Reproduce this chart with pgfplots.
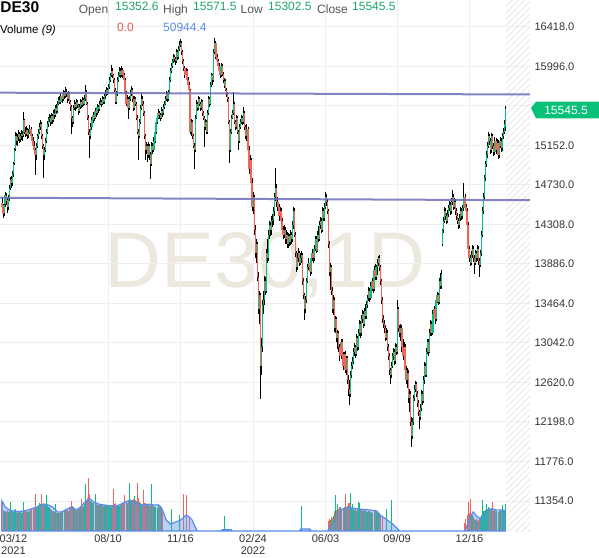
\documentclass[border=0pt]{standalone}
\usepackage{pgfplots}
\pgfplotsset{compat=1.18}
\usepackage{pgfplotstable}
\usepackage{fontspec}
\setmainfont{Liberation Sans}
\usetikzlibrary{patterns.meta}
\definecolor{cgreen}{HTML}{08C078}
\definecolor{cred}{HTML}{F0645A}
\definecolor{tgreen}{HTML}{1EA569}
\definecolor{tred}{HTML}{E65A50}
\definecolor{tblue}{HTML}{5A8CE6}
\definecolor{levelblue}{HTML}{6E6EB9}
\definecolor{gridgray}{HTML}{EEEEEE}
\definecolor{wm}{HTML}{ECE8DE}
\definecolor{mafill}{HTML}{6496E6}
\definecolor{maline}{HTML}{5A8CEB}
\definecolor{hatchgray}{HTML}{E2E2E2}
\definecolor{labgray}{HTML}{555555}
\definecolor{tickgray}{HTML}{333333}
\pgfplotstableread{
k o h l c u v
0 14540 14600 14420 14500 0 72000
1 14490 14530 14380 14420 0 52000
2 14430 14560 14400 14520 1 48000
3 14530 14660 14500 14620 1 50000
4 14610 14640 14520 14560 0 46000
5 14570 14600 14430 14500 0 52000
6 14500 14620 14460 14580 1 47000
7 14590 14730 14560 14700 1 50000
8 14700 14820 14680 14780 1 71000
9 14790 14830 14700 14750 0 48000
10 14750 14880 14720 14850 1 50000
11 14850 14980 14820 14950 1 46000
12 14960 15130 14940 15100 1 52000
13 15110 15300 15090 15250 1 55000
14 15250 15290 15160 15200 0 48000
15 15200 15270 15150 15240 1 45000
16 15240 15320 15200 15280 1 47000
17 15280 15300 15180 15220 0 50000
18 15220 15290 15190 15250 1 46000
19 15250 15320 15210 15280 1 44000
20 15280 15310 15200 15250 0 47000
21 15260 15510 15240 15420 1 72000
22 15420 15440 15270 15300 0 52000
23 15300 15350 15240 15280 0 48000
24 15280 15360 15250 15320 1 46000
25 15320 15340 15220 15260 0 49000
26 15260 15330 15230 15300 1 47000
27 15300 15370 15270 15330 1 50000
28 15330 15350 15210 15250 0 51000
29 15250 15280 15160 15200 0 53000
30 15200 15240 15100 15150 0 55000
31 15150 15200 15050 15100 0 57000
32 15100 15130 14840 15050 0 90000
33 15050 15180 15000 15150 1 60000
34 15150 15280 15120 15250 1 62000
35 15250 15330 15220 15300 1 65000
36 15300 15390 15270 15350 1 68000
37 15350 15420 15320 15380 1 66000
38 15380 15400 15220 15250 0 92000
39 15250 15280 15110 15150 0 65000
40 15150 15170 14800 15050 0 70000
41 15050 15140 15000 15100 1 66000
42 15100 15230 15080 15200 1 64000
43 15200 15330 15180 15300 1 88000
44 15300 15410 15270 15380 1 63000
45 15380 15460 15350 15430 1 60000
46 15430 15490 15400 15450 1 58000
47 15450 15480 15360 15400 0 55000
48 15400 15500 15380 15470 1 52000
49 15470 15490 15380 15420 0 50000
50 15420 15530 15400 15500 1 48000
51 15500 15540 15440 15480 0 46000
52 15480 15580 15460 15550 1 66000
53 15550 15590 15490 15520 0 45000
54 15520 15630 15500 15600 1 46000
55 15600 15670 15580 15640 1 44000
56 15640 15680 15590 15620 0 45000
57 15620 15710 15600 15680 1 47000
58 15680 15700 15610 15650 0 48000
59 15650 15740 15630 15700 1 50000
60 15700 15730 15650 15680 0 52000
61 15680 15780 15660 15720 1 55000
62 15720 15760 15670 15700 0 54000
63 15700 15720 15610 15650 0 52000
64 15650 15730 15630 15700 1 50000
65 15700 15720 15590 15620 0 56000
66 15620 15640 15520 15560 0 58000
67 15560 15580 15280 15450 0 75000
68 15450 15470 15350 15400 0 62000
69 15400 15580 15380 15550 1 58000
70 15550 15640 15530 15600 1 54000
71 15600 15620 15520 15560 0 52000
72 15560 15650 15540 15620 1 50000
73 15620 15640 15550 15580 0 51000
74 15580 15600 15480 15520 0 53000
75 15520 15600 15500 15560 1 55000
76 15560 15650 15540 15620 1 58000
77 15620 15640 15550 15580 0 79000
78 15580 15670 15560 15640 1 60000
79 15640 15660 15570 15600 0 62000
80 15600 15690 15580 15650 1 66000
81 15650 15800 15630 15720 1 115000
82 15720 15740 15580 15600 0 75000
83 15600 15620 15420 15450 0 80000
84 15450 15480 15260 15300 0 130000
85 15300 15330 15020 15250 0 90000
86 15250 15390 15220 15350 1 75000
87 15350 15460 15320 15420 1 72000
88 15420 15510 15390 15480 1 70000
89 15480 15500 15410 15450 0 68000
90 15450 15550 15430 15520 1 92000
91 15520 15540 15460 15500 0 66000
92 15500 15590 15480 15560 1 65000
93 15560 15580 15500 15540 0 64000
94 15540 15630 15520 15600 1 66000
95 15600 15660 15580 15620 1 67000
96 15620 15640 15560 15600 0 65000
97 15600 15680 15580 15650 1 63000
98 15650 15670 15590 15620 0 62000
99 15620 15710 15600 15680 1 64000
100 15680 15740 15650 15700 1 63000
101 15700 15780 15680 15750 1 62000
102 15750 15770 15690 15720 0 62000
103 15720 15810 15700 15780 1 64000
104 15780 15880 15760 15850 1 62000
105 15850 15930 15830 15900 1 60000
106 15900 16010 15880 15950 1 64000
107 15950 15980 15870 15900 0 62000
108 15900 15920 15820 15850 0 103000
109 15850 15870 15720 15750 0 66000
110 15750 15770 15600 15620 0 70000
111 15620 15730 15600 15700 1 64000
112 15700 15880 15680 15850 1 62000
113 15850 15940 15830 15900 1 61000
114 15900 15990 15880 15950 1 62000
115 15950 15980 15870 15900 0 63000
116 15900 16000 15880 15960 1 66000
117 15960 15980 15870 15900 0 68000
118 15900 15930 15820 15850 0 70000
119 15850 15870 15670 15700 0 88000
120 15700 15730 15570 15600 0 72000
121 15600 15690 15580 15650 1 70000
122 15650 15670 15440 15550 0 74000
123 15550 15680 15530 15650 1 118000
124 15650 15740 15630 15700 1 75000
125 15700 15790 15680 15750 1 74000
126 15750 15770 15620 15650 0 76000
127 15650 15680 15520 15550 0 78000
128 15550 15680 15530 15650 1 86000
129 15650 15670 15570 15600 0 76000
130 15600 15620 15420 15450 0 74000
131 15450 15480 15270 15300 0 118000
132 15300 15330 15000 15250 0 80000
133 15250 15440 15230 15400 1 72000
134 15400 15580 15380 15550 1 70000
135 15550 15700 15530 15650 1 66000
136 15650 15680 15570 15600 0 64000
137 15600 15630 15470 15500 0 100000
138 15500 15520 15220 15250 0 70000
139 15250 15270 15000 15100 0 68000
140 15100 15190 15060 15150 1 66000
141 15150 15170 14980 15050 0 64000
142 15050 15190 15020 15150 1 64000
143 15150 15170 15000 15050 0 62000
144 15050 15080 14790 14950 0 66000
145 14950 15190 14930 15150 1 115000
146 15150 15180 15060 15100 0 64000
147 15100 15240 15080 15200 1 62000
148 15200 15340 15180 15300 1 60000
149 15300 15430 15280 15400 1 58000
150 15400 15490 15380 15450 1 57000
151 15450 15540 15430 15500 1 66000
152 15500 15520 15440 15480 0 60000
153 15480 15500 15410 15450 0 58000
154 15450 15560 15430 15520 1 54000
155 15520 15540 15460 15500 0 50000
156 15500 15590 15480 15560 1 0
157 15560 15630 15540 15600 1 0
158 15600 15680 15580 15650 1 0
159 15650 15730 15630 15700 1 0
160 15700 15720 15620 15650 0 0
161 15650 15750 15630 15720 1 0
162 15720 15880 15700 15850 1 0
163 15850 15980 15830 15950 1 0
164 15950 16030 15930 16000 1 54000
165 16000 16080 15980 16050 1 0
166 16050 16130 16030 16100 1 0
167 16100 16120 16040 16080 0 0
168 16080 16100 16010 16050 0 0
169 16050 16180 16030 16150 1 0
170 16150 16170 16070 16100 0 0
171 16100 16210 16080 16180 1 0
172 16180 16270 16160 16230 1 40000
173 16230 16290 16200 16250 1 0
174 16250 16270 16120 16150 0 0
175 16150 16170 16020 16050 0 0
176 16050 16080 15950 15980 0 90000
177 15980 16000 15870 15900 0 0
178 15900 15980 15880 15950 1 0
179 15950 15970 15820 15850 0 88000
180 15850 15880 15780 15800 0 0
181 15800 15830 15720 15750 0 35000
182 15750 15760 15280 15300 0 0
183 15300 15430 15250 15400 1 0
184 15400 15420 15220 15250 0 0
185 15250 15280 15120 15150 0 0
186 15150 15180 14900 15100 0 0
187 15100 15480 15080 15450 1 0
188 15450 15640 15430 15600 1 0
189 15600 15620 15520 15550 0 0
190 15550 15680 15530 15650 1 0
191 15650 15670 15570 15600 0 0
192 15600 15620 15520 15550 0 0
193 15550 15650 15530 15620 1 0
194 15620 15640 15470 15500 0 0
195 15500 15520 15420 15450 0 0
196 15450 15470 15140 15350 0 0
197 15350 15430 15320 15400 1 0
198 15400 15420 15270 15300 0 0
199 15300 15530 15280 15500 1 0
200 15500 15680 15480 15650 1 0
201 15650 15670 15560 15600 0 0
202 15600 15830 15580 15800 1 0
203 15800 15930 15780 15900 1 0
204 15900 15920 15800 15850 0 0
205 15850 16180 15830 16150 1 0
206 16150 16300 16130 16250 1 0
207 16250 16270 16080 16100 0 0
208 16100 16130 16020 16050 0 0
209 16050 16080 15970 16000 0 0
210 16000 16030 15920 15950 0 0
211 15950 15980 15870 15900 0 0
212 15900 16030 15880 16000 1 0
213 16000 16020 15890 15920 0 0
214 15920 15940 15820 15850 0 0
215 15790 15870 15770 15840 1 37000
216 15840 15860 15730 15750 0 0
217 15750 15770 15670 15700 0 0
218 15700 15720 15620 15650 0 0
219 15650 15670 15380 15400 0 0
220 15400 15420 14970 15100 0 0
221 15100 15330 15080 15300 1 0
222 15300 15480 15280 15450 1 0
223 15450 15530 15430 15500 1 0
224 15500 15720 15480 15600 1 0
225 15600 15620 15380 15400 0 0
226 15400 15420 15320 15350 0 0
227 15350 15480 15330 15450 1 0
228 15450 15470 15280 15300 0 0
229 15300 15320 15100 15200 0 0
230 15200 15380 15180 15350 1 0
231 15350 15430 15330 15400 1 0
232 15400 15480 15380 15450 1 0
233 15450 15470 15370 15400 0 0
234 15400 15560 15380 15500 1 0
235 15500 15520 15320 15350 0 0
236 15350 15370 15220 15250 0 0
237 15250 15380 15200 15330 1 0
238 15330 15350 15080 15100 0 0
239 15100 15150 14850 14900 0 0
240 14900 15050 14860 15000 1 0
241 15000 15020 14700 14750 0 0
242 14750 14800 14450 14500 0 0
243 14500 14650 14420 14600 1 0
244 14600 14620 14200 14250 0 0
245 14250 14300 13950 14000 0 0
246 14000 14150 13900 14100 1 0
247 14100 14120 13700 13750 0 0
248 13750 13800 13350 13400 0 0
249 13400 13600 13250 13550 1 0
250 13550 13580 12440 12800 0 0
251 12800 13100 12700 13000 1 0
252 13000 13500 12950 13450 1 0
253 13450 13600 13350 13500 1 0
254 13500 13760 13450 13700 1 0
255 13700 13750 13550 13600 0 0
256 13600 14050 13580 14000 1 0
257 14000 14150 13900 13950 0 0
258 13950 14250 13920 14200 1 0
259 14200 14350 14150 14300 1 0
260 14300 14330 14180 14250 0 0
261 14250 14400 14200 14350 1 0
262 14350 14420 14280 14360 1 0
263 14360 14500 14300 14450 1 0
264 14450 14640 14400 14600 1 0
265 14600 14910 14560 14700 1 0
266 14700 14740 14500 14550 0 0
267 14550 14600 14450 14500 0 0
268 14500 14530 14350 14400 0 0
269 14400 14500 14360 14450 1 0
270 14450 14480 14300 14350 0 0
271 14350 14380 14200 14250 0 0
272 14250 14290 14150 14200 0 0
273 14200 14300 14160 14250 1 0
274 14250 14280 14100 14150 0 0
275 14150 14250 14100 14200 1 0
276 14200 14230 14060 14100 0 0
277 14100 14220 14060 14180 1 0
278 14180 14210 14080 14120 0 0
279 14120 14250 14090 14200 1 0
280 14200 14230 14100 14150 0 0
281 14150 14340 14120 14300 1 0
282 14300 14500 14260 14450 1 0
283 14450 14480 14170 14200 0 0
284 14200 14230 13960 14000 0 0
285 14000 14030 13800 13850 0 0
286 13850 14000 13820 13950 1 0
287 13950 14060 13910 14000 1 0
288 14000 14030 13860 13900 0 0
289 13900 14000 13870 13950 1 0
290 13950 14020 13900 13980 1 61000
291 13980 14000 13660 13700 0 0
292 13700 13740 13510 13550 0 0
293 13550 13580 13290 13400 0 0
294 13400 13540 13360 13500 1 0
295 13500 13740 13470 13700 1 0
296 13700 13890 13680 13850 1 0
297 13850 13950 13820 13900 1 0
298 13900 13930 13760 13800 0 0
299 13800 13990 13780 13950 1 0
300 13950 14050 13920 14000 1 0
301 14000 14030 13900 13950 0 0
302 13950 14090 13920 14050 1 0
303 14050 14190 14020 14150 1 0
304 14150 14180 14000 14030 0 0
305 14030 14240 14010 14200 1 0
306 14200 14290 14120 14150 0 0
307 14150 14340 14130 14300 1 0
308 14300 14390 14260 14350 1 0
309 14350 14380 14220 14250 0 0
310 14250 14490 14230 14450 1 0
311 14450 14480 14340 14380 0 0
312 14380 14540 14350 14500 1 0
313 14500 14660 14470 14600 1 0
314 14600 14630 14510 14550 0 0
315 14550 14580 14420 14450 0 0
316 14450 14470 14060 14100 0 25000
317 14100 14130 13760 13800 0 30000
318 13800 13900 13610 13850 1 28000
319 13850 13880 13560 13600 0 34000
320 13600 13640 13360 13400 0 32000
321 13400 13560 13340 13500 1 36000
322 13500 13530 13160 13200 0 50000
323 13200 13330 13150 13300 1 88000
324 13300 13320 13050 13100 0 52000
325 13100 13180 12980 13150 1 66000
326 13150 13170 12950 13000 0 55000
327 13000 13030 12850 12900 0 60000
328 12900 13080 12870 13050 1 58000
329 13050 13080 12860 12900 0 54000
330 12900 12950 12750 12800 0 56000
331 12800 12950 12760 12920 1 60000
332 12920 12960 12720 12750 0 91000
333 12750 12900 12700 12880 1 58000
334 12880 12900 12600 12650 0 62000
335 12650 12700 12480 12550 0 70000
336 12550 12650 12380 12500 0 70000
337 12500 12740 12470 12700 1 93000
338 12700 12840 12670 12800 1 56000
339 12800 12890 12760 12850 1 66000
340 12850 12990 12820 12950 1 55000
341 12950 13040 12900 13000 1 52000
342 13000 13020 12880 12920 0 54000
343 12920 13140 12900 13100 1 50000
344 13100 13120 12960 13000 0 56000
345 13000 13190 12970 13150 1 71000
346 13150 13290 13120 13250 1 69000
347 13250 13280 13100 13150 0 55000
348 13150 13340 13120 13300 1 52000
349 13300 13390 13260 13350 1 50000
350 13350 13380 13200 13250 0 54000
351 13250 13420 13220 13380 1 52000
352 13380 13460 13300 13330 0 50000
353 13330 13490 13300 13450 1 48000
354 13450 13560 13420 13520 1 46000
355 13520 13640 13490 13600 1 50000
356 13600 13630 13480 13520 0 48000
357 13520 13690 13500 13650 1 46000
358 13650 13740 13600 13700 1 47000
359 13700 13720 13580 13620 0 45000
360 13620 13860 13600 13820 1 50000
361 13820 13890 13720 13750 0 48000
362 13750 13880 13720 13850 1 46000
363 13850 13940 13770 13900 1 44000
364 13900 13970 13860 13950 1 45000
365 13950 13980 13810 13850 0 42000
366 13850 13880 13660 13700 0 40000
367 13700 13730 13460 13500 0 0
368 13500 13530 13260 13300 0 38000
369 13300 13340 13200 13250 0 0
370 13250 13290 13150 13200 0 0
371 13200 13230 13060 13100 0 0
372 13100 13200 13070 13150 1 54000
373 13150 13180 12960 13000 0 0
374 13000 13030 12860 12900 0 0
375 12900 12930 12700 12750 0 0
376 12750 12780 12600 12700 0 0
377 12700 12840 12670 12800 1 76000
378 12800 12940 12770 12900 1 0
379 12900 12990 12860 12950 1 0
380 12950 12980 12810 12850 0 0
381 12850 13040 12820 13000 1 0
382 13000 13030 12910 12950 0 0
383 12950 13500 12920 13400 1 0
384 13400 13430 13160 13200 0 0
385 13200 13230 13110 13150 0 0
386 13150 13250 13060 13200 1 0
387 13200 13230 12950 13000 0 0
388 13000 13080 12860 12900 0 0
389 12900 13050 12860 13000 1 0
390 13000 13030 12700 12750 0 0
391 12750 12800 12600 12650 0 0
392 12650 12780 12560 12720 1 0
393 12720 12750 12400 12450 0 0
394 12450 12550 12300 12500 1 0
395 12500 12530 12150 12200 0 0
396 12200 12250 11930 12050 0 0
397 12050 12240 12020 12200 1 0
398 12200 12490 12170 12450 1 0
399 12450 12590 12420 12550 1 0
400 12550 12640 12520 12600 1 0
401 12600 12630 12460 12500 0 0
402 12500 12530 12360 12400 0 0
403 12400 12430 12260 12300 0 0
404 12300 12330 12120 12250 0 0
405 12250 12390 12220 12350 1 0
406 12350 12540 12320 12500 1 0
407 12500 12530 12380 12420 0 0
408 12420 12690 12400 12650 1 0
409 12650 12840 12600 12800 1 0
410 12800 12830 12680 12700 0 0
411 12700 12990 12680 12950 1 0
412 12950 13090 12920 13050 1 0
413 13050 13080 12900 12950 0 0
414 12950 13190 12930 13150 1 0
415 13150 13290 13120 13250 1 0
416 13250 13280 13120 13150 0 0
417 13150 13390 13130 13350 1 0
418 13350 13440 13320 13400 1 0
419 13400 13420 13250 13300 0 0
420 13300 13540 13280 13500 1 0
421 13500 13590 13470 13550 1 0
422 13550 13580 13450 13480 0 0
423 13480 13740 13460 13700 1 0
424 13700 13790 13620 13650 0 0
425 13650 13820 13620 13780 1 0
426 14100 14260 14080 14250 1 0
427 14250 14390 14220 14350 1 0
428 14350 14490 14320 14450 1 0
429 14450 14480 14360 14400 0 0
430 14400 14430 14310 14350 0 0
431 14350 14460 14320 14420 1 0
432 14420 14520 14390 14480 1 0
433 14480 14560 14450 14520 1 0
434 14520 14550 14410 14450 0 0
435 14450 14590 14420 14550 1 0
436 14550 14680 14520 14600 1 0
437 14600 14630 14460 14500 0 0
438 14500 14590 14470 14550 1 0
439 14550 14580 14410 14450 0 0
440 14450 14480 14360 14400 0 0
441 14400 14430 14310 14350 0 0
442 14350 14380 14260 14300 0 0
443 14300 14420 14270 14380 1 0
444 14380 14490 14350 14450 1 0
445 14450 14480 14360 14400 0 0
446 14400 14520 14370 14480 1 0
447 14480 14750 14450 14600 1 0
448 14600 14630 14460 14500 0 20000
449 14500 14530 14410 14450 0 30000
450 14450 14480 14260 14300 0 40000
451 14300 14330 14010 14050 0 71000
452 14050 14080 13910 13950 0 45000
453 13950 13980 13860 13900 0 79000
454 13900 14020 13870 13980 1 42000
455 13980 14090 13950 14050 1 40000
456 14050 14080 13910 13950 0 35000
457 13950 13980 13780 13900 0 30000
458 13900 14040 13870 14000 1 28000
459 14000 14030 13910 13950 0 30000
460 13950 14090 13920 14050 1 25000
461 14050 14080 13880 13920 0 28000
462 13920 13950 13750 13880 0 32000
463 13880 14040 13850 14000 1 35000
464 14000 14240 13970 14200 1 40000
465 14200 14490 14170 14450 1 76000
466 14450 14640 14420 14600 1 50000
467 14600 14840 14570 14800 1 48000
468 14800 14990 14770 14950 1 52000
469 14950 15090 14920 15050 1 66000
470 15050 15190 15020 15150 1 55000
471 15150 15300 15120 15250 1 58000
472 15250 15280 15160 15200 0 54000
473 15200 15230 15060 15100 0 52000
474 15100 15290 15070 15250 1 56000
475 15250 15280 15110 15150 0 71000
476 15150 15180 15040 15080 0 50000
477 15080 15240 15050 15200 1 52000
478 15200 15230 15060 15100 0 48000
479 15100 15220 15070 15180 1 50000
480 15180 15210 15010 15050 0 46000
481 15050 15190 15020 15150 1 50000
482 15150 15240 15120 15200 1 52000
483 15200 15230 15080 15120 0 48000
484 15120 15290 15090 15250 1 64000
485 15250 15340 15220 15300 1 50000
486 15300 15420 15270 15380 1 52000
487 15352.6 15571.5 15302.5 15545.5 1 66000
}\price
\pgfplotstableread{
k m
0 74000
3 60000
8 50000
15 48000
22 49000
30 56000
36 60000
40 66000
45 64000
49 59000
54 47000
58 47000
63 54000
67 59000
72 52000
76 59000
80 71000
85 79000
89 71000
94 66000
99 64000
104 62000
111 62000
115 66000
119 71000
124 76000
128 71000
133 64000
137 64000
142 66000
147 64000
151 64000
154 59000
156 47000
159 27000
163 17000
168 22000
173 27000
178 39000
181 35000
184 27000
187 10000
189 0
212 0
213 3000
222 3000
223 0
288 0
289 5000
298 5000
299 0
315 0
318 12000
321 20000
325 40000
327 52000
335 59000
345 54000
355 52000
363 49000
366 39000
373 27000
379 15000
385 0
448 0
451 20000
453 34000
456 47000
460 35000
463 30000
466 40000
469 47000
472 54000
475 54000
478 52000
482 52000
487 51000
}\vma
\begin{document}
\begin{tikzpicture}[x=1pt,y=1pt]
\path[use as bounding box] (0,0) rectangle (599,557);
% watermark
\node[anchor=base, inner sep=0, text=wm, font=\fontsize{79}{79}\selectfont] at (265,269) {DE30,1D};
\begin{axis}[
  at={(0pt,26pt)}, anchor=south west, scale only axis,
  width=530pt, height=531pt,
  xmin=-1.935, xmax=510.97, ymin=11033.5, ymax=16706.4,
  axis line style={draw=none},
  major tick length=0pt,
  scaled y ticks=false, scaled x ticks=false,
  ytick={11354,11776,12198,12620,13042,13464,13886,14308,14730,15152,15996,16418},
  extra y ticks={15574}, extra y tick labels={},
  yticklabel pos=right,
  yticklabel style={anchor=west, xshift=1pt},
  /pgf/number format/.cd, fixed, fixed zerofill, precision=1, 1000 sep={}, assume math mode=true,
  /pgfplots/.cd,
  xtick={102.6,172.7,242.9,313.1,382.3,452.4},
  xticklabels={08/10,11/16,{02/24\\2022},06/03,09/09,12/16},
  xticklabel style={align=center},
  extra x ticks={11.1},
  extra x tick labels={{03/12\\2021}},
  extra x tick style={grid=none, xticklabel style={align=center}},
  tick label style={font=\fontsize{11}{11.5}\selectfont, text=tickgray},
  grid=major, grid style={draw=gridgray, line width=1pt},
]
\fill[pattern={Lines[angle=45,distance=4.5pt,line width=0.7pt]}, pattern color=hatchgray]
  (axis cs:487.8,11033.5) rectangle (axis cs:510.97,16706.4);
% wicks
\addplot[draw=none, forget plot, error bars/.cd, y dir=minus, y explicit, error mark=none,
  error bar style={line width=0.85pt, draw=black, solid}]
  table[x=k, y=h, y error minus expr=\thisrow{h}-\thisrow{l}] {\price};
% up bodies (zero length for down days)
\addplot[draw=none, forget plot, error bars/.cd, y dir=minus, y explicit, error mark=none,
  error bar style={line width=1.2pt, draw=cgreen, solid}]
  table[x=k, y=c, y error minus expr=(\thisrow{c}-\thisrow{o})*\thisrow{u}] {\price};
% down bodies (zero length for up days)
\addplot[draw=none, forget plot, error bars/.cd, y dir=minus, y explicit, error mark=none,
  error bar style={line width=1.2pt, draw=cred, solid}]
  table[x=k, y=o, y error minus expr=(\thisrow{o}-\thisrow{c})*(1-\thisrow{u})] {\price};
% level lines
\draw[levelblue, line width=2pt, opacity=0.85] (axis cs:-1.935,15716) -- (axis cs:510.97,15697);
\draw[levelblue, line width=2pt, opacity=0.85] (axis cs:-1.935,14594) -- (axis cs:510.97,14567);
\end{axis}
\begin{axis}[
  at={(0pt,26pt)}, anchor=south west, scale only axis,
  width=530pt, height=531pt,
  xmin=-1.935, xmax=510.97, ymin=0, ymax=1306260,
  hide axis, clip=false, scaled y ticks=false,
]
\addplot[ycomb, draw=cgreen, line width=1pt] table[x=k, y expr=\thisrow{v}*\thisrow{u}] {\price};
\addplot[ycomb, draw=cred, line width=1pt] table[x=k, y expr=\thisrow{v}*(1-\thisrow{u})] {\price};
\addplot[draw=maline, line width=1.2pt, fill=mafill, fill opacity=0.45] table[x=k, y=m] {\vma} \closedcycle;
\end{axis}
% price box
\fill[cgreen] (531,449) -- (536,455.3) -- (599,455.3) -- (599,438.7) -- (536,438.7) -- cycle;
\node[anchor=center, inner sep=0, text=white, font=\fontsize{12}{12}\selectfont] at (566,447) {15545.5};
% header
\node[anchor=base west, inner sep=0, font=\fontsize{15.5}{16}\selectfont\bfseries] at (0.2,544.3) {DE30};
\node[anchor=base west, inner sep=0, text=labgray, font=\fontsize{12}{12}\selectfont] at (78.7,543.4) {Open};
\node[anchor=base west, inner sep=0, text=tgreen, font=\fontsize{12}{12}\selectfont] at (115,546.3) {15352.6};
\node[anchor=base west, inner sep=0, text=labgray, font=\fontsize{12}{12}\selectfont] at (163,543.4) {High};
\node[anchor=base west, inner sep=0, text=tgreen, font=\fontsize{12}{12}\selectfont] at (193,546.3) {15571.5};
\node[anchor=base west, inner sep=0, text=labgray, font=\fontsize{12}{12}\selectfont] at (240.5,543.4) {Low};
\node[anchor=base west, inner sep=0, text=tgreen, font=\fontsize{12}{12}\selectfont] at (268,546.3) {15302.5};
\node[anchor=base west, inner sep=0, text=labgray, font=\fontsize{12}{12}\selectfont] at (317,543.4) {Close};
\node[anchor=base west, inner sep=0, text=tgreen, font=\fontsize{12}{12}\selectfont] at (352,546.3) {15545.5};
\node[anchor=base west, inner sep=0, text=black, font=\fontsize{11.5}{12}\selectfont] at (0,523.7) {Volume \textit{(9)}};
\node[anchor=base west, inner sep=0, text=tred, font=\fontsize{12}{12}\selectfont] at (117,525.3) {0.0};
\node[anchor=base west, inner sep=0, text=tblue, font=\fontsize{12}{12}\selectfont] at (163,525.3) {50944.4};
\end{tikzpicture}
\end{document}
